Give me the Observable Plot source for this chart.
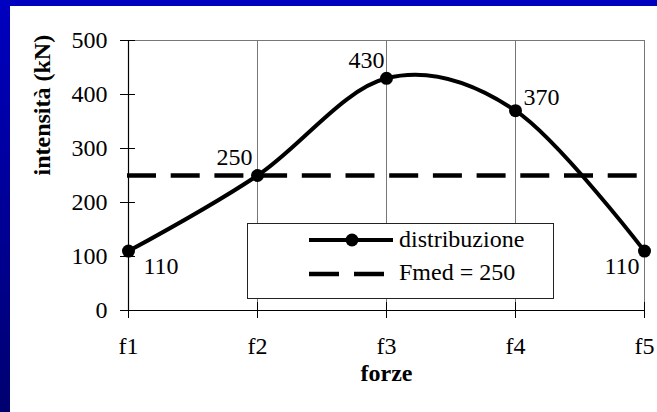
<!DOCTYPE html>
<html><head><meta charset="utf-8">
<script src="https://cdn.jsdelivr.net/npm/d3@7"></script>
<script src="https://cdn.jsdelivr.net/npm/@observablehq/plot@0.6"></script>
<style>
html,body{margin:0;padding:0;background:#fff;}
#wrap{position:relative;width:657px;height:412px;overflow:hidden;background:#fff;font-family:"Liberation Serif","Times New Roman","DejaVu Serif",serif;}
#left{position:absolute;left:0;top:0;width:10px;height:412px;background:linear-gradient(#0000c0,#000070);}
#top{position:absolute;left:0;top:0;width:657px;height:6px;background:#0000c0;}
#chart{position:absolute;left:0;top:0;}
#legend{position:absolute;left:247px;top:223px;}
svg text{font-family:"Liberation Serif","Times New Roman","DejaVu Serif",serif !important;}
</style></head>
<body><div id="wrap"><div id="chart"></div><div id="legend"></div><div id="left"></div><div id="top"></div></div>
<script>
const forze = ["f1", "f2", "f3", "f4", "f5"];
const intensita = [110, 250, 430, 370, 110];
const fmed = 250;
const yTicks = [0, 100, 200, 300, 400, 500];
const seriesName = "distribuzione";
const fmedLabel = "Fmed = 250";
const xTitle = "forze";
const yTitle = "intensità (kN)";

const data = forze.map((f, i) => ({forza: f, valore: intensita[i]}));
const labelOffsets = [
  {dx: 15, dy: 15, anchor: "start"},
  {dx: -5, dy: -18, anchor: "end"},
  {dx: -2, dy: -18, anchor: "end"},
  {dx: 8, dy: -13, anchor: "start"},
  {dx: -5, dy: 15, anchor: "end"}
];
const FONT = "'Liberation Serif', 'Times New Roman', 'DejaVu Serif', serif";

const chart = Plot.plot({
  width: 657, height: 412,
  marginLeft: 127, marginRight: 12, marginTop: 40, marginBottom: 102,
  style: {fontFamily: FONT, fontSize: "24px", background: "transparent", color: "#000", overflow: "visible"},
  x: {type: "point", domain: forze, padding: 0, label: null, axis: null},
  y: {domain: [0, 500], label: null, axis: null},
  marks: [
    Plot.gridX(forze, {stroke: "#777", strokeOpacity: 1, strokeWidth: 1}),
    Plot.gridY([500], {stroke: "#777", strokeOpacity: 1, strokeWidth: 1}),
    Plot.ruleX([forze[0]], {stroke: "#000", strokeWidth: 1.2}),
    Plot.ruleY([0], {stroke: "#000", strokeWidth: 1.2}),
    Plot.axisY(yTicks, {tickSize: 15, dx: 8, tickFormat: () => "", stroke: "#000", strokeWidth: 1}),
    Plot.axisY(yTicks, {tickSize: 0, tickPadding: 20, fontSize: 24, fill: "#000"}),
    Plot.axisX(forze, {tickSize: 16, dy: -8, tickFormat: () => "", stroke: "#000", strokeWidth: 1}),
    Plot.axisX(forze, {tickSize: 0, tickPadding: 26, fontSize: 24, fill: "#000"}),
    Plot.ruleY([fmed], {stroke: "#000", strokeWidth: 4.5, strokeDasharray: "29,14.7"}),
    Plot.line(data, {x: "forza", y: "valore", curve: "cardinal", stroke: "#000", strokeWidth: 4}),
    Plot.dot(data, {x: "forza", y: "valore", r: 6.5, fill: "#000", stroke: null}),
    ...data.map((d, i) => Plot.text([d], {
      x: "forza", y: "valore", text: (d) => String(d.valore),
      dx: labelOffsets[i].dx, dy: labelOffsets[i].dy, textAnchor: labelOffsets[i].anchor,
      fontSize: 24, fill: "#000"
    })),
    Plot.text([xTitle], {frameAnchor: "bottom", dy: 70, fontSize: 24, fontWeight: "bold", fill: "#000"}),
    Plot.text([yTitle], {frameAnchor: "left", dx: -85, rotate: -90, fontSize: 24, fontWeight: "bold", fill: "#000"})
  ]
});
document.getElementById("chart").appendChild(chart);

// legend (inside plot area, as in the reference)
const lg = d3.select("#legend").append("svg").attr("width", 307).attr("height", 76)
  .style("font-size", "24px");
lg.append("rect").attr("x", 0.5).attr("y", 0.5).attr("width", 306).attr("height", 75)
  .attr("fill", "#fff").attr("stroke", "#222").attr("stroke-width", 1);
lg.append("line").attr("x1", 62).attr("x2", 146).attr("y1", 17).attr("y2", 17)
  .attr("stroke", "#000").attr("stroke-width", 4);
lg.append("circle").attr("cx", 105).attr("cy", 17).attr("r", 6.5).attr("fill", "#000");
lg.append("text").attr("x", 152).attr("y", 24).text(seriesName);
lg.append("line").attr("x1", 62).attr("x2", 138).attr("y1", 51).attr("y2", 51)
  .attr("stroke", "#000").attr("stroke-width", 4.5).attr("stroke-dasharray", "30,15");
lg.append("text").attr("x", 152).attr("y", 57).text(fmedLabel);
</script>
</body></html>
